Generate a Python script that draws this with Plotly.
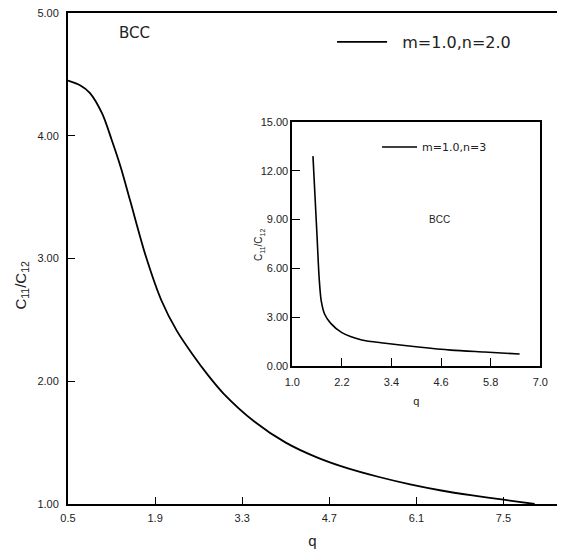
import plotly.graph_objects as go

# Main curve (m=1.0, n=2.0)
q_main = [0.5, 0.7, 0.85, 1.05, 1.2, 1.35, 1.5, 1.75, 2.0, 2.25, 2.5, 2.75, 3.0, 3.5, 4.0, 4.5, 5.0, 5.5, 6.0, 6.5, 7.0, 7.5, 8.0]
c_main = [4.45, 4.41, 4.35, 4.18, 3.97, 3.74, 3.47, 3.02, 2.66, 2.41, 2.22, 2.05, 1.90, 1.67, 1.50, 1.38, 1.29, 1.22, 1.16, 1.11, 1.07, 1.035, 1.00]

# Inset curve (m=1.0, n=3)
q_inset = [1.5, 1.55, 1.6, 1.65, 1.7, 1.78, 1.93, 2.2, 2.68, 3.25, 4.05, 4.84, 5.65, 6.5]
c_inset = [12.9, 10.4, 7.9, 5.4, 4.0, 3.2, 2.62, 2.05, 1.6, 1.4, 1.17, 0.98, 0.86, 0.74]

main_xticks = [0.5, 1.9, 3.3, 4.7, 6.1, 7.5]
main_xlabels = ["0.5", "1.9", "3.3", "4.7", "6.1", "7.5"]
main_yticks = [1, 2, 3, 4, 5]
main_ylabels = ["1.00", "2.00", "3.00", "4.00", "5.00"]
inset_xticks = [1.0, 2.2, 3.4, 4.6, 5.8, 7.0]
inset_xlabels = ["1.0", "2.2", "3.4", "4.6", "5.8", "7.0"]
inset_yticks = [0, 3, 6, 9, 12, 15]
inset_ylabels = ["0.00", "3.00", "6.00", "9.00", "12.00", "15.00"]

FONT = "Liberation Sans"
FONT2 = "DejaVu Sans"
TXT = "#222"
NB = "\u00a0"

fig = go.Figure()
fig.add_trace(go.Scatter(x=q_main, y=c_main, mode="lines", name=NB * 2 + "m=1.0,n=2.0",
                         line=dict(color="black", width=1.8, shape="spline", smoothing=0.8),
                         xaxis="x", yaxis="y", legend="legend", showlegend=True))
fig.add_trace(go.Scatter(x=q_inset, y=c_inset, mode="lines", name="m=1.0,n=3",
                         line=dict(color="black", width=1.6, shape="spline", smoothing=0.8),
                         xaxis="x2", yaxis="y2", legend="legend2", showlegend=True))

axis_common = dict(showgrid=False, zeroline=False, linecolor="black", ticks="inside",
                   tickcolor="black", tickfont=dict(family=FONT, size=11, color=TXT))

fig.update_layout(
    width=565, height=554,
    showlegend=True,
    margin=dict(l=68, r=0, t=13, b=50),
    paper_bgcolor="white", plot_bgcolor="white",
    xaxis=dict(**axis_common, domain=[0, 1], range=[0.5, 8.36], tickvals=main_xticks,
               ticktext=main_xlabels, linewidth=2, ticklen=7, mirror=True, ticklabelstandoff=3,
               title=dict(text="q", font=dict(family=FONT, size=15, color=TXT), standoff=12)),
    yaxis=dict(**axis_common, domain=[0, 1], range=[1, 5], tickvals=main_yticks,
               ticktext=main_ylabels, linewidth=2, ticklen=7, ticklabelstandoff=5),
    xaxis2=dict(**axis_common, domain=[0.4587, 0.9658], range=[1.0, 7.0], anchor="y2",
                tickvals=inset_xticks, ticktext=inset_xlabels, linewidth=1.8, ticklen=8, mirror=True,
                ticklabelstandoff=5,
                title=dict(text="q", font=dict(family=FONT, size=11, color=TXT), standoff=10)),
    yaxis2=dict(**axis_common, domain=[0.281, 0.778], range=[0, 15], anchor="x2",
                tickvals=inset_yticks, ticktext=inset_ylabels, linewidth=1.8, ticklen=8, mirror=True),
    legend=dict(x=0.54, y=0.941, xanchor="left", yanchor="middle", bgcolor="rgba(0,0,0,0)",
                font=dict(family=FONT2, size=16, color=TXT), itemwidth=50),
    legend2=dict(x=0.632, y=0.727, xanchor="left", yanchor="middle", bgcolor="rgba(0,0,0,0)",
                 font=dict(family=FONT2, size=11, color=TXT), itemwidth=35),
    annotations=[
        dict(text="BCC", x=0.135, y=0.959, xref="paper", yref="paper", showarrow=False,
             xanchor="center", yanchor="middle", font=dict(family=FONT2, size=15, color=TXT)),
        dict(text="BCC", x=4.55, y=9.0, xref="x2", yref="y2", showarrow=False,
             xanchor="center", yanchor="middle", font=dict(family=FONT, size=10, color=TXT)),
        dict(text="C<sub>11</sub>/C<sub>12</sub>", x=-0.097, y=0.446, xref="paper", yref="paper",
             xanchor="center", yanchor="middle",
             showarrow=False, textangle=-90, font=dict(family=FONT, size=15, color=TXT)),
        dict(text="C<sub>11</sub>/C<sub>12</sub>", x=0.392, y=0.527, xref="paper", yref="paper",
             xanchor="center", yanchor="middle",
             showarrow=False, textangle=-90, font=dict(family=FONT, size=10, color=TXT)),
    ],
)

fig.write_html("out.html")
